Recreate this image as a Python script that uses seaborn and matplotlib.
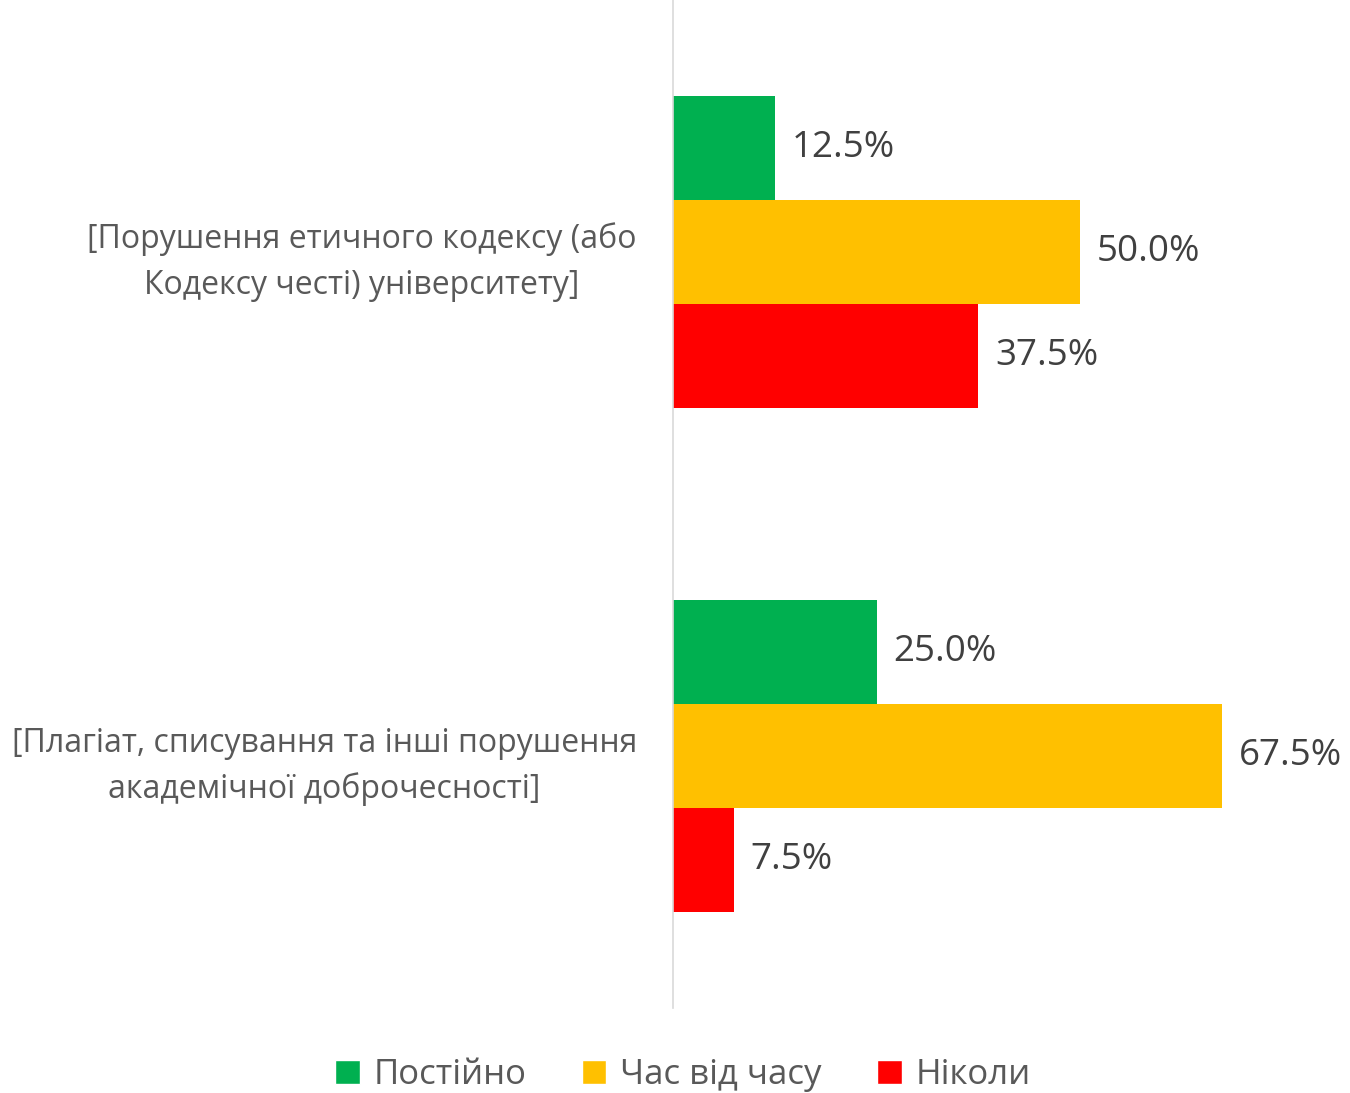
import pandas as pd
import matplotlib.pyplot as plt
import seaborn as sns
from matplotlib.patches import Patch

categories = [
    "[Порушення етичного кодексу (або\nКодексу честі) університету]",
    "[Плагіат, списування та інші порушення\nакадемічної доброчесності]",
]
series = ["Постійно", "Час від часу", "Ніколи"]
postiyno = [12.5, 25.0]
chas_vid_chasu = [50.0, 67.5]
nikoly = [37.5, 7.5]
colors = ["#00B050", "#FFC000", "#FF0000"]

rows = []
for i, cat in enumerate(categories):
    for name, vals in zip(series, [postiyno, chas_vid_chasu, nikoly]):
        rows.append({"cat": cat, "series": name, "value": vals[i]})
df = pd.DataFrame(rows)

sns.set_style("white")
plt.rcParams["font.family"] = ["Open Sans", "DejaVu Sans"]

fig = plt.figure(figsize=(13.5, 10.93), dpi=100)
ax = fig.add_axes([673 / 1350, 1 - 1008 / 1093, 1 - 673 / 1350, 1008 / 1093])

sns.barplot(data=df, y="cat", x="value", hue="series", palette=colors,
            orient="h", width=0.62, saturation=1, linewidth=0, ax=ax, legend=False)

ax.set_xlim(0, 677 / 8.14)
ax.set_ylim(1.5, -0.5)

for cont in ax.containers:
    labels = [f"{v:.1f}%" for v in cont.datavalues]
    ax.bar_label(cont, labels=labels, padding=12, fontsize=26.5, color="#404040")

ax.set_xticks([])
ax.set_yticks(range(len(categories)))
ax.set_yticklabels(categories, fontsize=23, color="#595959",
                   multialignment="center", linespacing=1.5)
ax.tick_params(axis="y", length=0, pad=26)
ax.set_xlabel("")
ax.set_ylabel("")
for s in ["top", "right", "bottom"]:
    ax.spines[s].set_visible(False)
ax.spines["left"].set_color("#D9D9D9")
ax.spines["left"].set_linewidth(1.2)

handles = [Patch(facecolor=c, label=s) for c, s in zip(colors, series)]
fig.legend(handles=handles, loc="center", bbox_to_anchor=(683 / 1350, 1 - 1075 / 1093),
           ncol=3, frameon=False, fontsize=25, labelcolor="#595959",
           handlelength=0.7, handleheight=0.7, handletextpad=0.4, columnspacing=1.6)

fig.savefig("out.png", dpi=100)
